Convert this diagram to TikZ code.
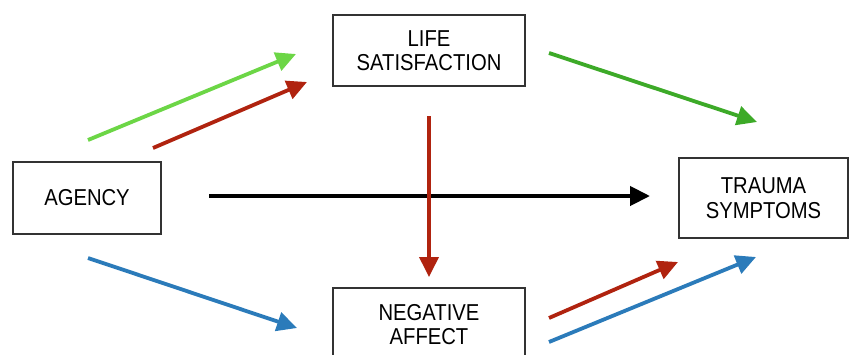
\documentclass[tikz,border=0pt]{standalone}
\usepackage{fontspec}
\setmainfont{Liberation Sans}[FakeStretch=0.88]
\usetikzlibrary{arrows.meta}

\definecolor{boxline}{HTML}{333333}
\definecolor{lightgreen}{HTML}{6CD646}
\definecolor{darkgreen}{HTML}{3DAA28}
\definecolor{darkred}{HTML}{B0230F}
\definecolor{pathblue}{HTML}{2B7BBA}

\tikzset{
  varbox/.style={draw=boxline, line width=1.5pt, rectangle, align=center,
    inner sep=0pt, text=black, font=\fontsize{23}{24.5}\selectfont},
  path arrow/.style={line width=3.8pt,
    -{Triangle[length=20pt,width=19pt]}},
}

\begin{document}
\begin{tikzpicture}[x=1pt,y=-1pt]
  \useasboundingbox (0,0) rectangle (849,354);
  \clip (0,0) rectangle (849,354);
  \fill[white] (0,0) rectangle (849,354);

  % variables
  \node[varbox, minimum width=192pt, minimum height=71pt] (life) at (429,50.5) {LIFE\\SATISFACTION};
  \node[varbox, minimum width=148pt, minimum height=72pt] (agency) at (87,198) {AGENCY};
  \node[varbox, minimum width=169pt, minimum height=80pt] (trauma) at (763.5,198) {TRAUMA\\SYMPTOMS};
  \node[varbox, minimum width=192pt, minimum height=73pt] (neg) at (429,324.5) {NEGATIVE\\AFFECT};

  % arrow end points
  \coordinate (gA) at (88,140);   \coordinate (gB) at (296,54);
  \coordinate (rA) at (153,148);  \coordinate (rB) at (307,82);
  \coordinate (dgA) at (549,53);  \coordinate (dgB) at (757,122);
  \coordinate (vA) at (429,116);  \coordinate (vB) at (429,277);
  \coordinate (kA) at (209,196);  \coordinate (kB) at (650,196);
  \coordinate (bA) at (88,258);   \coordinate (bB) at (297,328);
  \coordinate (r2A) at (549,318); \coordinate (r2B) at (678,262);
  \coordinate (b2A) at (549,342); \coordinate (b2B) at (756,257);

  % direct effect
  \draw[path arrow, line width=4.2pt, black] (kA) -- (kB);

  % paths through life satisfaction
  \draw[path arrow, lightgreen] (gA) -- (gB);
  \draw[path arrow, darkred] (rA) -- (rB);
  \draw[path arrow, darkgreen] (dgA) -- (dgB);

  % life satisfaction to negative affect
  \draw[path arrow, darkred] (vA) -- (vB);

  % paths through negative affect
  \draw[path arrow, pathblue] (bA) -- (bB);
  \draw[path arrow, darkred] (r2A) -- (r2B);
  \draw[path arrow, pathblue] (b2A) -- (b2B);
\end{tikzpicture}
\end{document}
